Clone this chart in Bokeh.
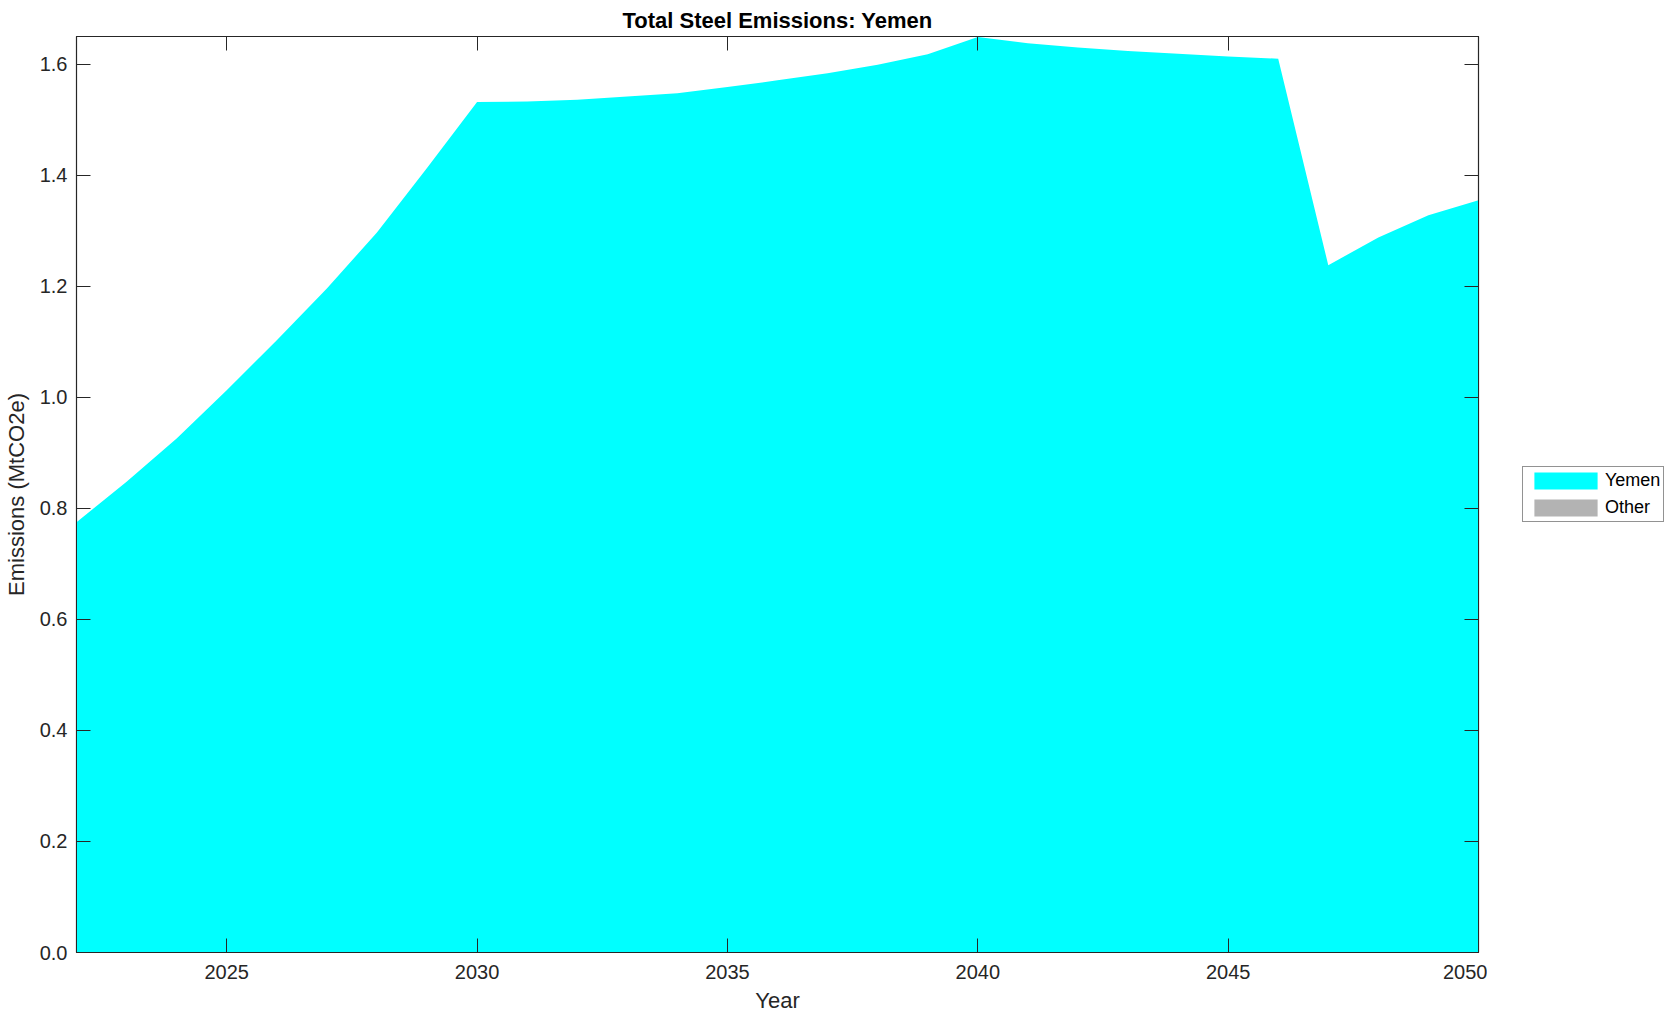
from bokeh.plotting import figure
from bokeh.layouts import row
from bokeh.models import (LinearAxis, FixedTicker, NumeralTickFormatter, Legend, LegendItem,
                          Range1d, ColumnDataSource)
from bokeh.embed import file_html
from bokeh.resources import INLINE

years = list(range(2022, 2051))
yemen = [0.775, 0.848, 0.926, 1.013, 1.103, 1.196, 1.297, 1.413, 1.532,
         1.533, 1.536, 1.542, 1.548, 1.559, 1.571, 1.584, 1.599, 1.618, 1.649,
         1.638, 1.630, 1.624, 1.619, 1.614, 1.610, 1.238, 1.288, 1.328, 1.355]
other = [0.0] * len(years)
series_names = ["Yemen", "Other"]
series_colors = ["#00ffff", "#b3b3b3"]
x_ticks = [2025, 2030, 2035, 2040, 2045, 2050]
y_ticks = [0.0, 0.2, 0.4, 0.6, 0.8, 1.0, 1.2, 1.4, 1.6]

FONT = "Liberation Sans"
DARK = "#262626"
FIG_H = 1007

src = ColumnDataSource(dict(year=years, Yemen=yemen, Other=other))

p = figure(frame_width=1402, frame_height=916, output_backend="svg", toolbar_location=None,
           x_range=Range1d(2022, 2050), y_range=Range1d(0, 1.65),
           min_border_left=68, min_border_top=36, min_border_bottom=55, min_border_right=9,
           title="Total Steel Emissions: Yemen")
p.title.align = "center"
p.title.text_font = FONT
p.title.text_font_size = "22px"
p.title.text_font_style = "bold"
p.title.text_color = "black"
p.title.standoff = 8

p.varea_stack(stackers=series_names, x="year", source=src, color=series_colors)

p.xgrid.visible = False
p.ygrid.visible = False
p.outline_line_color = DARK
p.outline_line_width = 1.2
p.background_fill_color = "white"
p.border_fill_color = "white"

def style_axis(ax, labels=True):
    ax.axis_line_color = DARK
    ax.major_tick_line_color = DARK
    ax.major_tick_in = 14
    ax.major_tick_out = 0
    ax.minor_tick_line_color = None
    ax.major_label_text_font = FONT
    ax.major_label_text_font_size = "20px"
    ax.major_label_text_color = DARK
    ax.axis_label_text_font = FONT
    ax.axis_label_text_font_size = "22px"
    ax.axis_label_text_font_style = "normal"
    ax.axis_label_text_color = DARK
    if not labels:
        ax.major_label_text_font_size = "0px"
        ax.major_label_text_color = None
        ax.major_label_standoff = 0

xa = p.xaxis[0]
ya = p.yaxis[0]
xa.ticker = FixedTicker(ticks=x_ticks)
ya.ticker = FixedTicker(ticks=y_ticks)
ya.formatter = NumeralTickFormatter(format="0.0")
xa.axis_label = "Year"
ya.axis_label = "Emissions (MtCO2e)"
style_axis(xa)
style_axis(ya)
xa.major_label_standoff = 12
ya.major_label_standoff = 9
xa.axis_label_standoff = 6
ya.axis_label_standoff = 8

top = LinearAxis(ticker=FixedTicker(ticks=x_ticks))
right = LinearAxis(ticker=FixedTicker(ticks=y_ticks))
style_axis(top, labels=False)
style_axis(right, labels=False)
p.add_layout(top, "above")
p.add_layout(right, "right")

# legend panel (separate figure placed to the right of the plot)
lf = figure(width=183, height=FIG_H, output_backend="svg", toolbar_location=None,
            x_range=Range1d(0, 1), y_range=Range1d(0, 1),
            min_border=0, min_border_left=0, min_border_right=0,
            min_border_top=0, min_border_bottom=0)
lf.axis.visible = False
lf.grid.visible = False
lf.outline_line_color = None
lf.background_fill_color = "white"
lf.border_fill_color = "white"
lsrc = ColumnDataSource(dict(year=[5, 6], Yemen=[0, 0], Other=[0, 0]))
lrs = lf.varea_stack(stackers=series_names, x="year", source=lsrc, color=series_colors)

legend = Legend(items=[LegendItem(label=n, renderers=[r]) for n, r in zip(series_names, lrs)],
                location=(35, 422))
legend.label_text_font = FONT
legend.label_text_font_size = "18px"
legend.label_text_color = "black"
legend.border_line_color = DARK
legend.border_line_width = 1
legend.glyph_width = 79
legend.glyph_height = 21
legend.label_height = 21
legend.spacing = 6
legend.padding = 3
legend.label_standoff = 0
legend.margin = 0
legend.background_fill_color = "white"
legend.background_fill_alpha = 1
lf.add_layout(legend, "center")

layout = row(p, lf)
open("out.html", "w").write(file_html(layout, INLINE))
